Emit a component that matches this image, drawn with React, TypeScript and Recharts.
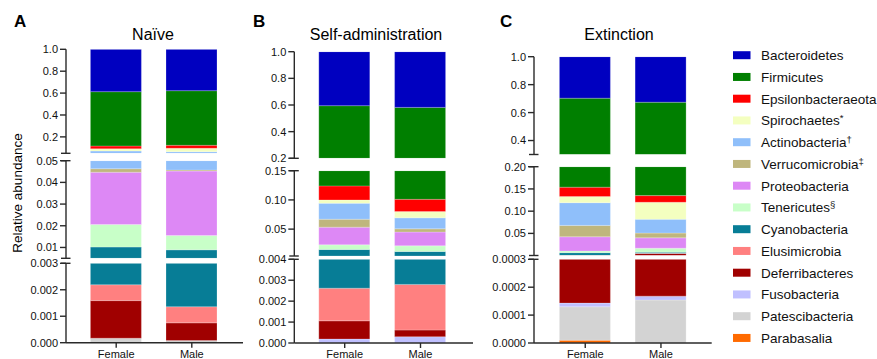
import React from 'react';
import { BarChart, Bar, XAxis, YAxis } from 'recharts';

// ---------- data ----------
const PHYLA = [
  'Bacteroidetes', 'Firmicutes', 'Epsilonbacteraeota', 'Spirochaetes', 'Actinobacteria',
  'Verrucomicrobia', 'Proteobacteria', 'Tenericutes', 'Cyanobacteria', 'Elusimicrobia',
  'Deferribacteres', 'Fusobacteria', 'Patescibacteria', 'Parabasalia',
];
const LEGEND_MARKS = ['', '', '', '*', '†', '‡', '', '§', '', '', '', '', '', ''];
const COLORS = [
  '#0000C0', '#007F00', '#FF0000', '#F4FFC0', '#8FBFFA', '#BFB67D', '#DD88F5',
  '#C8FFC8', '#077D96', '#FF8080', '#A00000', '#C0C0FF', '#D3D3D3', '#FF6A00',
];
const SEXES = ['Female', 'Male'];
const TITLES = ['Naïve', 'Self-administration', 'Extinction'];
const LETTERS = ['A', 'B', 'C'];

// relative abundance, in PHYLA order
const NAIVE_FEMALE = [0.387, 0.4964, 0.0246, 0.021, 0.0247, 0.0016, 0.0241, 0.0104, 0.00801, 0.0006, 0.00142, 0, 0.00017, 0];
const NAIVE_MALE = [0.378, 0.499, 0.0274, 0.031, 0.0189, 0.0005, 0.0297, 0.0066, 0.00754, 0.00061, 0.00067, 0, 0.00008, 0];
const SA_FEMALE = [0.405, 0.471, 0.024, 0.0057, 0.0273, 0.0136, 0.0302, 0.008, 0.01258, 0.00156, 0.00087, 0.00019, 0, 0];
const SA_MALE = [0.418, 0.481, 0.021, 0.0107, 0.0188, 0.0055, 0.0235, 0.0097, 0.009, 0.00218, 0.00032, 0.0003, 0, 0];
const EXT_FEMALE = [0.297, 0.549, 0.0212, 0.0138, 0.051, 0.0256, 0.032, 0.0038, 0.006, 0.0001, 0.00036, 0.000013, 0.00012, 0.00001];
const EXT_MALE = [0.326, 0.539, 0.015, 0.0384, 0.0309, 0.0107, 0.0232, 0.009, 0.0025, 0.0005, 0.004632, 0.000014, 0.000154, 0];

// y-axis segments (broken axis): [min, max], labelled ticks, decimals
const NAIVE_SEGMENTS = [
  { domain: [0.05, 1.0], ticks: [0.2, 0.4, 0.6, 0.8, 1.0], breaks: [0.05], digits: 1 },
  { domain: [0.005, 0.05], ticks: [0.01, 0.02, 0.03, 0.04, 0.05], breaks: [0.005, 0.05], digits: 2 },
  { domain: [0, 0.003], ticks: [0, 0.001, 0.002, 0.003], breaks: [0.003], digits: 3 },
];
const SA_SEGMENTS = [
  { domain: [0.2, 1.0], ticks: [0.2, 0.4, 0.6, 0.8, 1.0], breaks: [0.2], digits: 1 },
  { domain: [0.004, 0.15], ticks: [0.05, 0.1, 0.15], breaks: [0.004, 0.15], digits: 2 },
  { domain: [0, 0.004], ticks: [0, 0.001, 0.002, 0.003, 0.004], breaks: [0.004], digits: 3 },
];
const EXT_SEGMENTS = [
  { domain: [0.3, 1.0], ticks: [0.4, 0.6, 0.8, 1.0], breaks: [0.3], digits: 1 },
  { domain: [0.0003, 0.2], ticks: [0.05, 0.1, 0.15, 0.2], breaks: [0.0003, 0.2], digits: 2 },
  { domain: [0, 0.0003], ticks: [0, 0.0001, 0.0002, 0.0003], breaks: [0.0003], digits: 4 },
];

// ---------- layout ----------
const W = 877;
const H = 359;
const YW = 40;
const XH = 12;
const FONT = '"Liberation Sans", Arial, Helvetica, sans-serif';
const AXIS = '#2a2a2a';

const PANELS = [
  {
    values: [NAIVE_FEMALE, NAIVE_MALE], segments: NAIVE_SEGMENTS,
    axisX: 66, right: 243, pl: 12.4, pr: 13.4,
    segPx: [[49.3, 153.3], [160.7, 258.3], [263.3, 342.7]],
    titleX: 153, letterX: 14,
  },
  {
    values: [SA_FEMALE, SA_MALE], segments: SA_SEGMENTS,
    axisX: 294.3, right: 473, pl: 12.5, pr: 14.6,
    segPx: [[51.7, 158.3], [170.7, 256], [259.3, 343]],
    titleX: 376, letterX: 253,
  },
  {
    values: [EXT_FEMALE, EXT_MALE], segments: EXT_SEGMENTS,
    axisX: 534, right: 711.7, pl: 13.4, pr: 12.9,
    segPx: [[56.7, 154.5], [166.7, 255.5], [259.3, 343]],
    titleX: 619, letterX: 500,
  },
];

const STACK_ORDER = PHYLA.map((_, i) => PHYLA.length - 1 - i);

const near = (a: number, b: number) => Math.abs(a - b) < 1e-12;

function makeTick(axisX: number, seg: any) {
  return (props: any) => {
    const { y, payload } = props;
    const v = payload.value;
    const labelled = seg.ticks.some((t: number) => near(t, v));
    const isBreak = seg.breaks.some((t: number) => near(t, v));
    return (
      <g>
        {labelled && (
          <line x1={axisX - 6} x2={axisX} y1={y} y2={y} stroke={AXIS} strokeWidth={1.4} />
        )}
        {isBreak && (
          <line x1={axisX - 5} x2={axisX + 4.5} y1={y} y2={y} stroke={AXIS} strokeWidth={1.4} />
        )}
        {labelled && (
          <text x={axisX - 8} y={y} dy="0.36em" textAnchor="end" fontSize={11} fill="#111" fontFamily={FONT}>
            {v.toFixed(seg.digits)}
          </text>
        )}
      </g>
    );
  };
}

function buildRows(values: number[][]) {
  return SEXES.map((sex, si) => {
    const row: any = { sex };
    PHYLA.forEach((p, pi) => {
      row[p] = values[si][pi];
    });
    return row;
  });
}

function SegmentChart({ panel, segIndex }: { panel: any; segIndex: number }) {
  const seg = panel.segments[segIndex];
  const [top, bottom] = panel.segPx[segIndex];
  const showX = segIndex === panel.segments.length - 1;
  const data = buildRows(panel.values);
  const allTicks = Array.from(new Set([...seg.ticks, ...seg.breaks])).sort((a: any, b: any) => a - b);
  const margin = {
    top,
    bottom: H - bottom - (showX ? XH : 0),
    left: panel.axisX - YW,
    right: W - panel.right,
  };
  return (
    <div style={{ position: 'absolute', left: 0, top: 0, width: W, height: H }}>
      <BarChart width={W} height={H} data={data} margin={margin} barCategoryGap={0}>
        <XAxis
          dataKey="sex"
          hide={!showX}
          height={showX ? XH : 0}
          padding={{ left: panel.pl, right: panel.pr }}
          interval={0}
          tickSize={5}
          tickMargin={2}
          axisLine={{ stroke: AXIS, strokeWidth: 1.4 }}
          tickLine={{ stroke: AXIS, strokeWidth: 1.4 }}
          tick={{ fontSize: 11, fill: '#111', fontFamily: FONT }}
        />
        <YAxis
          type="number"
          domain={seg.domain}
          allowDataOverflow
          ticks={allTicks}
          interval={0}
          width={YW}
          tickLine={false}
          axisLine={{ stroke: AXIS, strokeWidth: 1.4 }}
          tick={makeTick(panel.axisX, seg)}
        />
        {STACK_ORDER.map((i) => (
          <Bar
            key={PHYLA[i]}
            dataKey={PHYLA[i]}
            stackId="s"
            fill={COLORS[i]}
            barSize={51}
            stroke="#ffffff"
            strokeOpacity={0.45}
            strokeWidth={0.5}
            isAnimationActive={false}
          />
        ))}
      </BarChart>
    </div>
  );
}

const LEGEND_TOP = 55.2;
const LEGEND_STEP = 21.75;

export default function App() {
  return (
    <div
      style={{
        position: 'absolute', left: 0, top: 0, width: W, height: H,
        background: '#ffffff', overflow: 'hidden', fontFamily: FONT,
      }}
    >
      {PANELS.map((panel, pi) =>
        panel.segments.map((_: any, si: number) => (
          <SegmentChart key={`${pi}-${si}`} panel={panel} segIndex={si} />
        ))
      )}
      <svg
        width={W}
        height={H}
        style={{ position: 'absolute', left: 0, top: 0, pointerEvents: 'none' }}
        fontFamily={FONT}
      >
        {PANELS.map((panel, pi) => (
          <g key={pi}>
            <text x={panel.letterX} y={27} fontSize={17} fontWeight="bold" fill="#000">
              {LETTERS[pi]}
            </text>
            <text x={panel.titleX} y={40} fontSize={16} textAnchor="middle" fill="#000">
              {TITLES[pi]}
            </text>
          </g>
        ))}
        <text
          x={17}
          y={193}
          fontSize={13.5}
          textAnchor="middle"
          dominantBaseline="central"
          transform="rotate(-90 17 193)"
          fill="#000"
        >
          Relative abundance
        </text>
        {PHYLA.map((p, i) => {
          const cy = LEGEND_TOP + i * LEGEND_STEP;
          return (
            <g key={p}>
              <rect x={733} y={cy - 4} width={17.5} height={8} fill={COLORS[i]} />
              <text x={761} y={cy} dy="0.36em" fontSize={13.5} fill="#111">
                {p}
                {LEGEND_MARKS[i] && (
                  <tspan fontSize={9.5} dy={-4}>
                    {LEGEND_MARKS[i]}
                  </tspan>
                )}
              </text>
            </g>
          );
        })}
      </svg>
    </div>
  );
}
